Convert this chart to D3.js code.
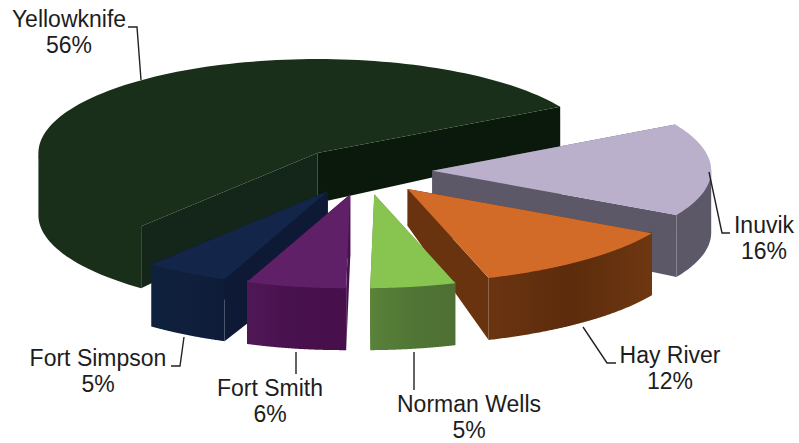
<!DOCTYPE html>
<html>
<head>
<meta charset="utf-8">
<style>
  html, body { margin: 0; padding: 0; background: #fff; }
  svg { display: block; }
  text { font-family: "Liberation Sans", Arial, sans-serif; font-size: 23px; fill: #1d1d1d; text-anchor: middle; }
</style>
<script src="https://cdnjs.cloudflare.com/ajax/libs/d3/7.8.5/d3.min.js"></script>
</head>
<body>
<svg id="chart" width="799" height="443"></svg>
<script>
// Share of the total by community, clockwise from the start angle
const categories = ["Inuvik", "Hay River", "Norman Wells", "Fort Smith", "Fort Simpson", "Yellowknife"];
const shares = [16, 12, 5, 6, 5, 56];

const topColors = ["#bab0cc", "#d26a28", "#88c450", "#5f2068", "#13264a", "#192f19"];
const startSideColors = ["#5c5868", "#5c2c0c", "#557a38", "#47114d", "#0e1a35", "#14261a"];
const endSideColors = ["#5c5868", "#6a3310", "#557a38", "#47114d", "#0e1a35", "#0b190c"];
const wallStops = [
  ["#5c5868", "#5c5868", "#5c5868"],
  ["#6b3411", "#5c2c0c", "#6e3711"],
  ["#5a8239", "#507535", "#4e7033"],
  ["#4f1756", "#47114d", "#470f4c"],
  ["#0f213d", "#0f1f3c", "#0e1c38"],
  ["#192f19", "#192f19", "#192f19"]
];

// Depth of the cut faces at the slice tip
const tipDepths = [55, 37, 62, 62, 70, 50];

// Where each label sits, with its leader line running from the slice to the text
const labelLayout = [
  { x: 764, y: 233, leader: [[709, 172], [722, 233], [730, 233]] },
  { x: 670, y: 363, leader: [[583, 327], [607, 363], [616, 363]] },
  { x: 469, y: 412, leader: [[414, 352], [414, 390]] },
  { x: 270, y: 396, leader: [[296, 352], [296, 374]] },
  { x: 98,  y: 366, leader: [[184, 337], [180, 366], [171, 366]] },
  { x: 69,  y: 27,  leader: [[128, 27], [137, 27], [141, 80]] }
];

const centre = { x: 362.5, y: 171 };
const radiusX = 279, radiusY = 94;
const explode = 0.25;
const rimDepth = 62;
const nearLean = 8.5;
const leanPeak = 165 * Math.PI / 180;
const startAngle = 60.5 * Math.PI / 180;

const svg = d3.select("#chart");
const defs = svg.append("defs");

const arcs = d3.pie().sort(null).startAngle(startAngle).endAngle(startAngle + 2 * Math.PI)(shares);

// Flattened disc: angles run clockwise from twelve o'clock
const px = d3.scaleLinear().domain([-1, 1]).range([-radiusX, radiusX]);
const py = d3.scaleLinear().domain([-1, 1]).range([radiusY, -radiusY]);
const line = d3.line();

// The rim gets shallower towards the back of the disc
const rimDepthAt = t => rimDepth - 40 * Math.max(0, Math.cos(t));
// The part of the rim nearest the viewer leans slightly to the left
const leanAt = t => nearLean * Math.pow(Math.max(0, Math.cos(t - leanPeak)), 4);

const slices = arcs.map((a, i) => {
  const mid = (a.startAngle + a.endAngle) / 2;
  const tip = {
    x: centre.x + explode * px(Math.sin(mid)),
    y: centre.y + explode * py(Math.cos(mid))
  };
  const at = t => [tip.x + px(Math.sin(t)) - leanAt(t), tip.y + py(Math.cos(t))];
  const angles = d3.range(0, 121).map(k => a.startAngle + (a.endAngle - a.startAngle) * k / 120);
  return { i, a, tip, at, angles };
});

function sideFace(s, t, depthAtTip, color) {
  const p = s.at(t), d = rimDepthAt(t);
  const pts = [[s.tip.x, s.tip.y], p, [p[0], p[1] + d], [s.tip.x, s.tip.y + depthAtTip]];
  return { y: p[1], path: line(pts) + "Z", color };
}

// Painted back to front so nearer slices cover the ones behind
const paintOrder = [5, 0, 1, 4, 3, 2];
paintOrder.forEach(i => {
  const s = slices[i];
  const g = svg.append("g").attr("class", "slice");

  const faces = [
    sideFace(s, s.a.startAngle, tipDepths[i], startSideColors[i]),
    sideFace(s, s.a.endAngle, tipDepths[i], endSideColors[i])
  ].sort((p, q) => p.y - q.y);
  faces.forEach(f => g.append("path").attr("d", f.path).attr("fill", f.color));

  const gradId = "wall" + i;
  const grad = defs.append("linearGradient").attr("id", gradId);
  wallStops[i].forEach((c, k) => grad.append("stop").attr("offset", k / 2).attr("stop-color", c));

  // Only the front half of the rim can be seen; its upper edge tucks under the top face
  const frontAngles = s.angles.filter(t => Math.cos(t) <= 0);
  const rimUpper = frontAngles.map(t => {
    const p = s.at(t);
    return [p[0], p[1] - 2];
  });
  const rimLower = frontAngles.map(t => {
    const p = s.at(t);
    return [p[0], p[1] + rimDepthAt(t)];
  });
  g.append("path")
    .attr("d", line(rimUpper.concat(rimLower.reverse())) + "Z")
    .attr("fill", `url(#${gradId})`);

  g.append("path")
    .attr("d", line([[s.tip.x, s.tip.y]].concat(s.angles.map(s.at))) + "Z")
    .attr("fill", topColors[i]);
});

// Leader lines and two-line labels
labelLayout.forEach((l, i) => {
  svg.append("path")
    .attr("d", line(l.leader))
    .attr("fill", "none")
    .attr("stroke", "#222")
    .attr("stroke-width", 1.4);
  const t = svg.append("text").attr("x", l.x).attr("y", l.y);
  t.append("tspan").attr("x", l.x).text(categories[i]);
  t.append("tspan").attr("x", l.x).attr("dy", 26).text(shares[i] + "%");
});
</script>
</body>
</html>
